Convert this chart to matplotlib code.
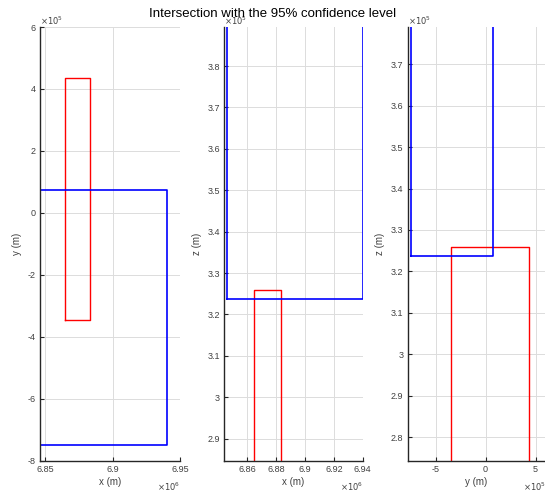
import matplotlib
matplotlib.use("Agg")
import matplotlib.pyplot as plt
from matplotlib.ticker import FuncFormatter, FixedLocator

# Box extents (metres)
blue_x = [6.8463e6, 6.9400e6]
blue_y = [-7.50e5, 0.73e5]
blue_z = [3.237e5, 4.10e5]
red_x = [6.8647e6, 6.8837e6]
red_y = [-3.47e5, 4.37e5]
red_z = [2.50e5, 3.259e5]

title = "Intersection with the 95% confidence level"

TICK_COLOR = "#404040"
plt.rcParams['font.family'] = ['Liberation Sans', 'DejaVu Sans']

fig = plt.figure(figsize=(5.45, 4.92), dpi=100)

def rect(ax, xs, ys, color, lw):
    ax.plot([xs[0], xs[1], xs[1], xs[0], xs[0]],
            [ys[0], ys[0], ys[1], ys[1], ys[0]], color=color, lw=lw, clip_on=True)

def style(ax, xscale, yscale, xticks, yticks, xlim, ylim, xlabel, ylabel, xexp, yexp):
    ax.set_xlim(xlim)
    ax.set_ylim(ylim)
    ax.xaxis.set_major_locator(FixedLocator([t * xscale for t in xticks]))
    ax.yaxis.set_major_locator(FixedLocator([t * yscale for t in yticks]))
    ax.xaxis.set_major_formatter(FuncFormatter(lambda v, p: "%g" % round(v / xscale, 4)))
    ax.yaxis.set_major_formatter(FuncFormatter(lambda v, p: "%g" % round(v / yscale, 4)))
    for s in ['top', 'right']:
        ax.spines[s].set_visible(False)
    for s in ['left', 'bottom']:
        ax.spines[s].set_color('#262626')
        ax.spines[s].set_linewidth(1.0)
    ax.tick_params(direction='in', length=3, width=0.8, colors='#262626',
                   labelcolor=TICK_COLOR, labelsize=6.5, pad=3)
    ax.grid(True, color='#dcdcdc', lw=0.7)
    ax.set_axisbelow(True)
    ax.set_xlabel(xlabel, fontsize=7, color=TICK_COLOR, labelpad=2)
    ax.set_ylabel(ylabel, fontsize=7, color=TICK_COLOR, labelpad=4)
    ax.text(0.0, 1.0, r'$\times10^{%d}$' % yexp, transform=ax.transAxes,
            ha='left', va='bottom', fontsize=6, color=TICK_COLOR)
    ax.text(1.0, -0.045, r'$\times10^{%d}$' % xexp, transform=ax.transAxes,
            ha='right', va='top', fontsize=6, color=TICK_COLOR)

bottom = 0.0636
height = 0.8815

ax1 = fig.add_axes([0.0734, bottom, 0.2569, height])
rect(ax1, red_x, red_y, 'red', 1.0)
rect(ax1, blue_x, blue_y, 'blue', 1.2)
style(ax1, 1e6, 1e5, [6.85, 6.9, 6.95], [-8, -6, -4, -2, 0, 2, 4, 6],
      [6.8463e6, 6.95e6], [-8e5, 6e5], 'x (m)', 'y (m)', 6, 5)

ax2 = fig.add_axes([0.4116, bottom, 0.254, height])
rect(ax2, red_x, red_z, 'red', 1.0)
rect(ax2, blue_x, blue_z, 'blue', 1.2)
style(ax2, 1e6, 1e5, [6.86, 6.88, 6.9, 6.92, 6.94],
      [2.9, 3.0, 3.1, 3.2, 3.3, 3.4, 3.5, 3.6, 3.7, 3.8],
      [6.8443e6, 6.94e6], [2.8467e5, 3.8944e5], 'x (m)', 'z (m)', 6, 5)

ax3 = fig.add_axes([0.748, bottom, 0.253, height])
rect(ax3, red_y, red_z, 'red', 1.0)
rect(ax3, blue_y, blue_z, 'blue', 1.2)
style(ax3, 1e5, 1e5, [-5, 0, 5],
      [2.8, 2.9, 3.0, 3.1, 3.2, 3.3, 3.4, 3.5, 3.6, 3.7],
      [-7.8e5, 6.0e5], [2.743e5, 3.79e5], 'y (m)', 'z (m)', 5, 5)

fig.text(0.5, 0.972, title, ha='center', va='center', fontsize=9.5, color='black')

fig.savefig("out.png", dpi=100)
